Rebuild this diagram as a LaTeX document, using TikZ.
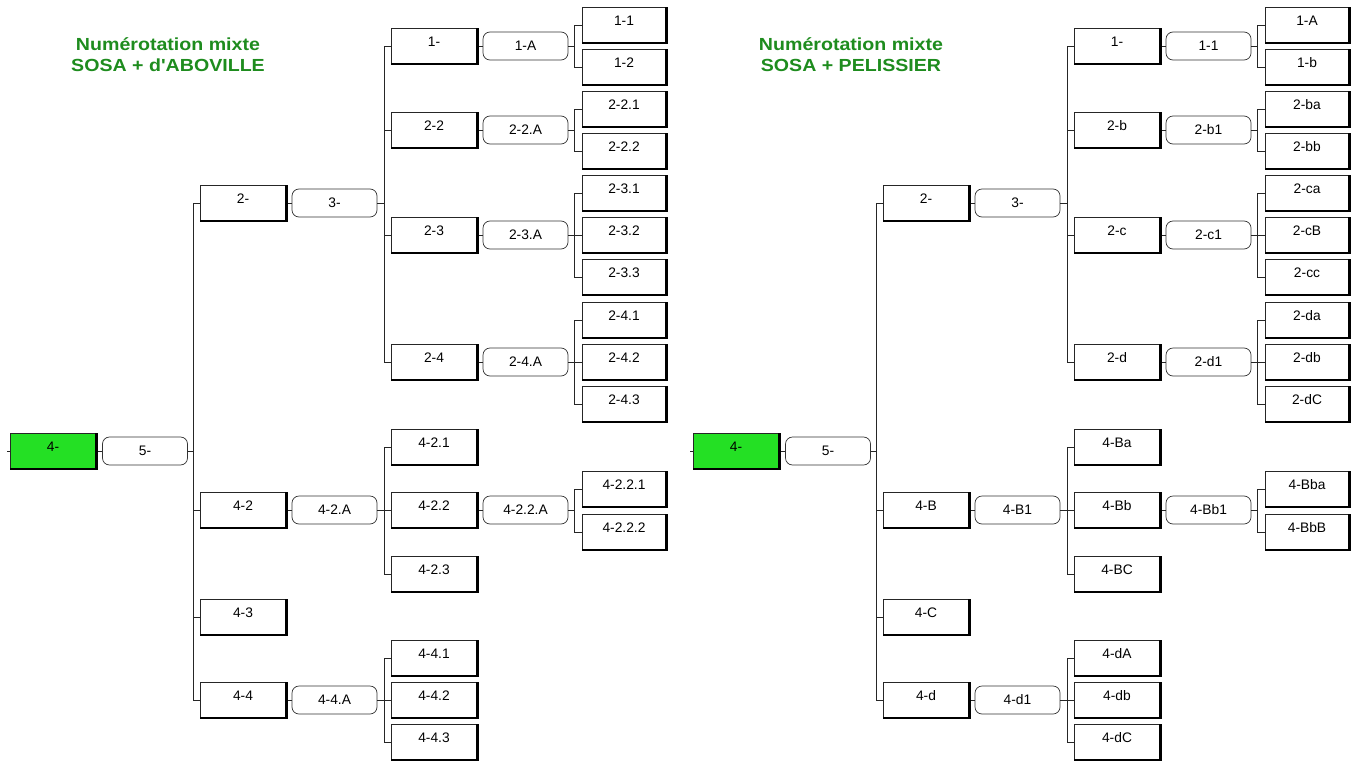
\documentclass[tikz,border=0pt]{standalone}
\usepackage{fontspec}
\setmainfont{Liberation Sans}
\definecolor{rootgreen}{RGB}{36,224,36}
\definecolor{titlegreen}{RGB}{30,140,30}
\newcommand\boxfont{\fontsize{13.8}{16}\selectfont}
\newcommand\ttlfont{\fontsize{17.5}{21}\selectfont\bfseries}
\tikzset{
  pers/.style={draw=black!85, line width=0.7pt, fill=white, minimum width=86pt,
    minimum height=35pt, inner sep=0pt, text height=9.9pt, text depth=8pt, font=\boxfont},
  leaf/.style={pers, minimum width=84pt},
  rootbox/.style={pers, fill=rootgreen},
  spouse/.style={draw=black!80, line width=0.7pt, rounded corners=7pt, fill=white,
    minimum width=85pt, minimum height=28pt, inner sep=0pt, text height=9.9pt,
    text depth=0pt, font=\boxfont},
  link/.style={line width=0.7pt, draw=black!85},
  thickedge/.style={line width=2.3pt, draw=black, line join=miter},
  ttl/.style={font=\ttlfont, text=titlegreen, anchor=base, xscale=1.12, inner sep=0pt}
}
% parent spouse node, gap to trunk, first child, last child
\newcommand\famlink[4]{%
  \draw[link] (#1.east) -- ++(#2,0) coordinate (#1t);
  \draw[link] (#3.west) -| (#1t);
  \draw[link] (#4.west) -| (#1t);
}
\newcommand\midlink[2]{\draw[link] (#2.west) -- (#2.west -| #1t);}
\begin{document}
\begin{tikzpicture}[x=1pt, y=-1pt]
\fill[white] (0,0) rectangle (1351,760);
\useasboundingbox (0,0) rectangle (1351,760);

% ================= LEFT TREE =================
\node[ttl] (Lt1) at (168,50.3) {Numérotation mixte};
\node[ttl] (Lt2) at (168,71.3) {SOSA + d\textquotesingle ABOVILLE};

\node[rootbox] (LR) at (53,451) {4-};
\node[spouse] (L5) at (145,451) {5-};
\node[pers] (La) at (243,203) {2-};
\node[spouse] (Las) at (334.5,203) {3-};
\node[pers] (Lb) at (243,510) {4-2};
\node[spouse] (Lbs) at (334.5,510) {4-2.A};
\node[pers] (Lc) at (243,617) {4-3};
\node[pers] (Ld) at (243,700) {4-4};
\node[spouse] (Lds) at (334.5,700) {4-4.A};

\node[pers] (La1) at (434,46) {1-};
\node[spouse] (La1s) at (525.5,46) {1-A};
\node[pers] (La2) at (434,130) {2-2};
\node[spouse] (La2s) at (525.5,130) {2-2.A};
\node[pers] (La3) at (434,235) {2-3};
\node[spouse] (La3s) at (525.5,235) {2-3.A};
\node[pers] (La4) at (434,362) {2-4};
\node[spouse] (La4s) at (525.5,362) {2-4.A};
\node[pers] (Lb1) at (434,447) {4-2.1};
\node[pers] (Lb2) at (434,510) {4-2.2};
\node[spouse] (Lb2s) at (525.5,510) {4-2.2.A};
\node[pers] (Lb3) at (434,574) {4-2.3};
\node[pers] (Ld1) at (434,658) {4-4.1};
\node[pers] (Ld2) at (434,700) {4-4.2};
\node[pers] (Ld3) at (434,742) {4-4.3};

\node[leaf] (La11) at (624,25) {1-1};
\node[leaf] (La12) at (624,67) {1-2};
\node[leaf] (La21) at (624,109) {2-2.1};
\node[leaf] (La22) at (624,151) {2-2.2};
\node[leaf] (La31) at (624,193) {2-3.1};
\node[leaf] (La32) at (624,235) {2-3.2};
\node[leaf] (La33) at (624,277) {2-3.3};
\node[leaf] (La41) at (624,320) {2-4.1};
\node[leaf] (La42) at (624,362) {2-4.2};
\node[leaf] (La43) at (624,404) {2-4.3};
\node[leaf] (Lb21) at (624,489) {4-2.2.1};
\node[leaf] (Lb22) at (624,532) {4-2.2.2};

\draw[link] (LR.west) -- ++(-3,0);
\draw[link] (LR.east) -- (L5.west);
\foreach \p/\s in {La/Las,Lb/Lbs,Ld/Lds,La1/La1s,La2/La2s,La3/La3s,La4/La4s,Lb2/Lb2s}
  \draw[link] (\p.east) -- (\s.west);
\famlink{L5}{5}{La}{Ld}
\midlink{L5}{Lb}\midlink{L5}{Lc}
\famlink{Las}{7}{La1}{La4}
\midlink{Las}{La2}\midlink{Las}{La3}
\famlink{Lbs}{7}{Lb1}{Lb3}
\midlink{Lbs}{Lb2}
\famlink{Lds}{7}{Ld1}{Ld3}
\midlink{Lds}{Ld2}
\famlink{La1s}{6}{La11}{La12}
\famlink{La2s}{6}{La21}{La22}
\famlink{La3s}{6}{La31}{La33}
\midlink{La3s}{La32}
\famlink{La4s}{6}{La41}{La43}
\midlink{La4s}{La42}
\famlink{Lb2s}{6}{Lb21}{Lb22}

\foreach \n in {LR,La,Lb,Lc,Ld,La1,La2,La3,La4,Lb1,Lb2,Lb3,Ld1,Ld2,Ld3,
  La11,La12,La21,La22,La31,La32,La33,La41,La42,La43,Lb21,Lb22}
  \draw[thickedge] (\n.north east) -- (\n.south east) -- (\n.south west);

% ================= RIGHT TREE =================
\begin{scope}[xshift=683pt]
\node[ttl] (Rt1) at (168,50.3) {Numérotation mixte};
\node[ttl] (Rt2) at (168,71.3) {SOSA + PELISSIER};

\node[rootbox] (RR) at (53,451) {4-};
\node[spouse] (R5) at (145,451) {5-};
\node[pers] (Ra) at (243,203) {2-};
\node[spouse] (Ras) at (334.5,203) {3-};
\node[pers] (Rb) at (243,510) {4-B};
\node[spouse] (Rbs) at (334.5,510) {4-B1};
\node[pers] (Rc) at (243,617) {4-C};
\node[pers] (Rd) at (243,700) {4-d};
\node[spouse] (Rds) at (334.5,700) {4-d1};

\node[pers] (Ra1) at (434,46) {1-};
\node[spouse] (Ra1s) at (525.5,46) {1-1};
\node[pers] (Ra2) at (434,130) {2-b};
\node[spouse] (Ra2s) at (525.5,130) {2-b1};
\node[pers] (Ra3) at (434,235) {2-c};
\node[spouse] (Ra3s) at (525.5,235) {2-c1};
\node[pers] (Ra4) at (434,362) {2-d};
\node[spouse] (Ra4s) at (525.5,362) {2-d1};
\node[pers] (Rb1) at (434,447) {4-Ba};
\node[pers] (Rb2) at (434,510) {4-Bb};
\node[spouse] (Rb2s) at (525.5,510) {4-Bb1};
\node[pers] (Rb3) at (434,574) {4-BC};
\node[pers] (Rd1) at (434,658) {4-dA};
\node[pers] (Rd2) at (434,700) {4-db};
\node[pers] (Rd3) at (434,742) {4-dC};

\node[leaf] (Ra11) at (624,25) {1-A};
\node[leaf] (Ra12) at (624,67) {1-b};
\node[leaf] (Ra21) at (624,109) {2-ba};
\node[leaf] (Ra22) at (624,151) {2-bb};
\node[leaf] (Ra31) at (624,193) {2-ca};
\node[leaf] (Ra32) at (624,235) {2-cB};
\node[leaf] (Ra33) at (624,277) {2-cc};
\node[leaf] (Ra41) at (624,320) {2-da};
\node[leaf] (Ra42) at (624,362) {2-db};
\node[leaf] (Ra43) at (624,404) {2-dC};
\node[leaf] (Rb21) at (624,489) {4-Bba};
\node[leaf] (Rb22) at (624,532) {4-BbB};

\draw[link] (RR.west) -- ++(-3,0);
\draw[link] (RR.east) -- (R5.west);
\foreach \p/\s in {Ra/Ras,Rb/Rbs,Rd/Rds,Ra1/Ra1s,Ra2/Ra2s,Ra3/Ra3s,Ra4/Ra4s,Rb2/Rb2s}
  \draw[link] (\p.east) -- (\s.west);
\famlink{R5}{5}{Ra}{Rd}
\midlink{R5}{Rb}\midlink{R5}{Rc}
\famlink{Ras}{7}{Ra1}{Ra4}
\midlink{Ras}{Ra2}\midlink{Ras}{Ra3}
\famlink{Rbs}{7}{Rb1}{Rb3}
\midlink{Rbs}{Rb2}
\famlink{Rds}{7}{Rd1}{Rd3}
\midlink{Rds}{Rd2}
\famlink{Ra1s}{6}{Ra11}{Ra12}
\famlink{Ra2s}{6}{Ra21}{Ra22}
\famlink{Ra3s}{6}{Ra31}{Ra33}
\midlink{Ra3s}{Ra32}
\famlink{Ra4s}{6}{Ra41}{Ra43}
\midlink{Ra4s}{Ra42}
\famlink{Rb2s}{6}{Rb21}{Rb22}

\foreach \n in {RR,Ra,Rb,Rc,Rd,Ra1,Ra2,Ra3,Ra4,Rb1,Rb2,Rb3,Rd1,Rd2,Rd3,
  Ra11,Ra12,Ra21,Ra22,Ra31,Ra32,Ra33,Ra41,Ra42,Ra43,Rb21,Rb22}
  \draw[thickedge] (\n.north east) -- (\n.south east) -- (\n.south west);
\end{scope}
\end{tikzpicture}
\end{document}
